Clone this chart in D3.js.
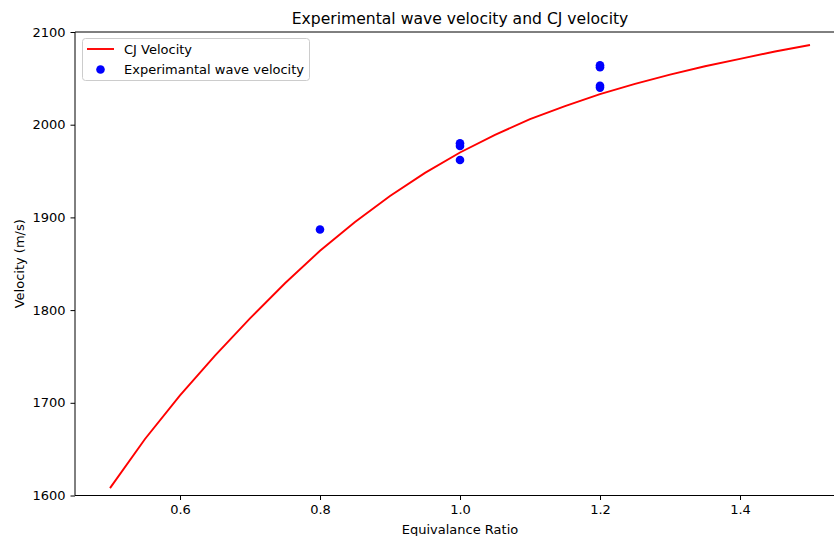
<!DOCTYPE html>
<html>
<head>
<meta charset="utf-8">
<script src="https://cdn.jsdelivr.net/npm/d3@7"></script>
<style>
  html, body { margin: 0; padding: 0; background: #fff; }
  svg { display: block; font-family: "DejaVu Sans", sans-serif; }
</style>
</head>
<body>
<svg id="chart" width="834" height="536"></svg>
<script>
// CJ velocity computed over equivalence ratio
const cjRatio = [0.5, 0.55, 0.6, 0.65, 0.7, 0.75, 0.8, 0.85, 0.9, 0.95, 1.0,
                 1.05, 1.1, 1.15, 1.2, 1.25, 1.3, 1.35, 1.4, 1.45, 1.5];
const cjVelocity = [1608, 1661, 1708, 1751, 1791, 1829, 1864, 1895, 1923, 1948, 1970,
                    1989, 2006, 2020, 2033, 2044, 2054, 2063, 2071, 2079, 2086];

// Measured wave velocities
const expRatio = [0.8, 1.0, 1.0, 1.0, 1.2, 1.2, 1.2, 1.2];
const expVelocity = [1887, 1980, 1977, 1962, 2064, 2062, 2042, 2040];

const xTicks = [0.6, 0.8, 1.0, 1.2, 1.4];
const yTicks = [1600, 1700, 1800, 1900, 2000, 2100];

const svg = d3.select("#chart");
const m = { left: 75, right: 845, top: 32, bottom: 495.5 };
const fs = 13;

const x = d3.scaleLinear().domain([0.45, 1.55]).range([m.left, m.right]);
const y = d3.scaleLinear().domain([1600, 2100]).range([m.bottom, m.top]);

// Axes
const xAxis = svg.append("g")
  .attr("transform", `translate(0,${m.bottom})`)
  .call(d3.axisBottom(x).tickValues(xTicks).tickFormat(d3.format(".1f")).tickSize(4.5).tickPadding(5));
const yAxis = svg.append("g")
  .attr("transform", `translate(${m.left},0)`)
  .call(d3.axisLeft(y).tickValues(yTicks).tickFormat(d3.format("d")).tickSize(4.5).tickPadding(5));

[xAxis, yAxis].forEach(g => {
  g.select(".domain").remove();
  g.selectAll("text").attr("font-size", fs).attr("fill", "#000")
    .attr("font-family", "DejaVu Sans, sans-serif");
  g.selectAll("line").attr("stroke", "#000").attr("stroke-width", 1);
});

// Spines
const spine = svg.append("g").attr("stroke", "#000").attr("stroke-width", 1).attr("fill", "none");
spine.append("line").attr("x1", m.left).attr("x2", m.left).attr("y1", m.top).attr("y2", m.bottom);
spine.append("line").attr("x1", m.left).attr("x2", m.right).attr("y1", m.bottom).attr("y2", m.bottom);
spine.append("line").attr("x1", m.left).attr("x2", m.right).attr("y1", m.top).attr("y2", m.top);
spine.append("line").attr("x1", m.right).attr("x2", m.right).attr("y1", m.top).attr("y2", m.bottom);

// CJ velocity curve
const line = d3.line().x((d, i) => x(cjRatio[i])).y(d => y(d));
svg.append("path")
  .datum(cjVelocity)
  .attr("d", line)
  .attr("fill", "none")
  .attr("stroke", "#ff0000")
  .attr("stroke-width", 1.9);

// Experimental points
svg.append("g").selectAll("circle")
  .data(expVelocity)
  .join("circle")
  .attr("cx", (d, i) => x(expRatio[i]))
  .attr("cy", d => y(d))
  .attr("r", 4.3)
  .attr("fill", "#0000ff");

// Title and axis labels
svg.append("text")
  .attr("x", (m.left + m.right) / 2).attr("y", 24)
  .attr("text-anchor", "middle").attr("font-size", 15.6)
  .text("Experimental wave velocity and CJ velocity");
svg.append("text")
  .attr("x", (m.left + m.right) / 2).attr("y", 534)
  .attr("text-anchor", "middle").attr("font-size", fs)
  .text("Equivalance Ratio");
svg.append("text")
  .attr("transform", `translate(24,${(m.top + m.bottom) / 2}) rotate(-90)`)
  .attr("text-anchor", "middle").attr("font-size", fs)
  .text("Velocity (m/s)");

// Legend
const lg = svg.append("g");
lg.append("rect")
  .attr("x", 82.5).attr("y", 38.5).attr("width", 227).attr("height", 42)
  .attr("rx", 3).attr("fill", "#fff").attr("fill-opacity", 0.8)
  .attr("stroke", "#cccccc").attr("stroke-width", 1);
lg.append("line")
  .attr("x1", 87).attr("x2", 114).attr("y1", 49).attr("y2", 49)
  .attr("stroke", "#ff0000").attr("stroke-width", 1.9);
lg.append("circle").attr("cx", 100.5).attr("cy", 69.5).attr("r", 4.3).attr("fill", "#0000ff");
lg.append("text").attr("x", 124).attr("y", 53.5).attr("font-size", fs).text("CJ Velocity");
lg.append("text").attr("x", 124).attr("y", 74).attr("font-size", fs).text("Experimantal wave velocity");
</script>
</body>
</html>
